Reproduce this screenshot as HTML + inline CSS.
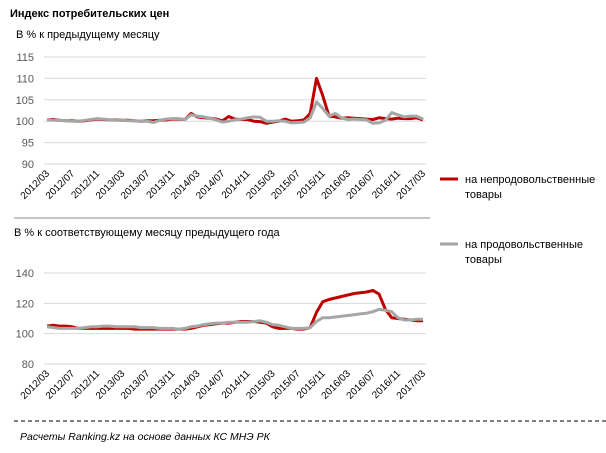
<!DOCTYPE html>
<html><head><meta charset="utf-8"><style>
body{margin:0;background:#fff;}
svg text{font-family:"Liberation Sans",sans-serif;}
</style></head><body>
<svg id="c" width="606" height="448" xmlns="http://www.w3.org/2000/svg">
<text x="10" y="17" font-size="11" font-weight="bold" fill="#000">Индекс потребительских цен</text>
<text x="16" y="38" font-size="11" fill="#000">В % к предыдущему месяцу</text>
<text x="14" y="236" font-size="11" fill="#000">В % к соответствующему месяцу предыдущего года</text>
<line x1="14" y1="218" x2="430" y2="218" stroke="#888" stroke-width="1"/>
<line x1="14" y1="421" x2="606" y2="421" stroke="#000" stroke-width="1" stroke-dasharray="4,3"/>
<text x="20" y="440" font-size="10.5" font-style="italic" fill="#000">Расчеты Ranking.kz на основе данных  КС МНЭ РК</text>
<g>
<line x1="440" y1="179" x2="458" y2="179" stroke="#c00000" stroke-width="3"/>
<text x="465" y="183" font-size="11" fill="#000">на непродовольственные</text>
<text x="465" y="198" font-size="11" fill="#000">товары</text>
</g>
<g>
<line x1="440" y1="244" x2="458" y2="244" stroke="#a6a6a6" stroke-width="3"/>
<text x="465" y="248" font-size="11" fill="#000">на продовольственные</text>
<text x="465" y="263" font-size="11" fill="#000">товары</text>
</g>
<g id="top"></g><g id="bot"></g>
</svg>
<script>
const monthlyNonFood=[100.3,100.4,100.2,100.1,100.1,100.0,100.1,100.3,100.5,100.4,
100.3,100.3,100.2,100.2,100.1,100.0,100.1,100.1,100.2,100.3,100.5,100.5,
100.4,101.8,101.0,100.8,100.7,100.5,100.1,101.1,100.5,100.4,100.4,100.0,
99.9,99.5,99.8,100.0,100.5,100.0,100.1,100.3,101.8,110.0,106.0,101.2,
101.0,100.7,100.8,100.7,100.6,100.5,100.4,100.8,100.6,100.5,100.7,100.6,
100.6,100.8,100.3];
const monthlyFood=[100.3,100.2,100.2,100.1,100.0,100.0,100.2,100.4,100.6,100.5,
100.3,100.2,100.2,100.1,100.1,100.0,100.0,99.7,100.2,100.5,100.6,100.6,
100.4,101.5,101.2,101.0,100.7,100.3,99.8,100.0,100.3,100.5,100.8,101.0,
100.9,100.0,100.0,100.1,100.0,99.6,99.7,99.8,100.8,104.5,103.0,101.2,
101.8,100.8,100.4,100.5,100.4,100.3,99.5,99.6,100.2,102.0,101.5,101.0,
101.2,101.2,100.5];
const annualNonFood=[105,105.5,105,105,104.5,103.5,103.5,103.5,103.5,103.5,
103.5,103.5,103.5,103.5,103,103,103,103,103,103,103,103,
103,103.5,104.5,105.5,106,106.5,107,107,107.5,108,108,108,
107.5,107,104.5,103.5,103.5,103.5,103,103,104,114,121,122.5,
123.5,124.5,125.5,126.5,127,127.5,128.5,126,116,110.5,110,109.5,
109,108.5,108.5];
const annualFood=[104.5,104,103.5,103.5,103.5,103.5,104,104.5,104.5,105,
105,104.5,104.5,104.5,104.5,104,104,104,103.5,103.5,103.5,103,
103.5,104.5,105,106,106.5,107,107,107.5,107.5,107.5,107.5,108,
108.5,107.5,106,105.5,104.5,103.5,103.5,103.5,104,108,110.5,110.5,
111,111.5,112,112.5,113,113.5,114.5,116,115.5,114.5,110.5,109,
109,109.5,109.5];
const xLabels=["2012/03","2012/07","2012/11","2013/03","2013/07","2013/11","2014/03","2014/07","2014/11","2015/03","2015/07","2015/11","2016/03","2016/07","2016/11","2017/03"];
const topTicks=[90,95,100,105,110,115];
const botTicks=[80,100,120,140];
const NS="http://www.w3.org/2000/svg";
const x0=47,x1=423,n=monthlyNonFood.length;
function xs(i){return x0+(x1-x0)*i/(n-1);}
function mk(tag,attrs,parent){const e=document.createElementNS(NS,tag);for(const k in attrs)e.setAttribute(k,attrs[k]);parent.appendChild(e);return e;}
function chart(g,ticks,yTop,yBot,series,labelY,prefix){
  const lo=ticks[0],hi=ticks[ticks.length-1];
  const ys=v=>yBot-(v-lo)/(hi-lo)*(yBot-yTop);
  ticks.forEach(t=>{
    const l=mk('line',{x1:44,x2:426,y1:ys(t),y2:ys(t),stroke:'#d9d9d9','stroke-width':1},g);
    
    
    const tx=mk('text',{x:34,y:ys(t)+4,'font-size':11,fill:'#595959','text-anchor':'end'},g);
    tx.textContent=t;
    
    
  });
  xLabels.forEach((lab,k)=>{
    const x=xs(k*4);
    const tx=mk('text',{x:x+3,y:labelY,'font-size':10,fill:'#000','text-anchor':'end',transform:'rotate(-45 '+(x+3)+' '+labelY+')'},g);
    tx.textContent=lab;
    
    
  });
  series.forEach(s=>{
    const p=mk('polyline',{points:s.d.map((v,i)=>xs(i).toFixed(1)+','+ys(v).toFixed(1)).join(' '),fill:'none',stroke:s.c,'stroke-width':3,'stroke-linejoin':'round'},g);
    
    
  });
}
chart(document.getElementById('top'),topTicks,57,164,[{d:monthlyNonFood,c:'#c00000',name:'nonfood'},{d:monthlyFood,c:'#a6a6a6',name:'food'}],174,'top');
chart(document.getElementById('bot'),botTicks,273,364,[{d:annualNonFood,c:'#c00000',name:'nonfood'},{d:annualFood,c:'#a6a6a6',name:'food'}],374,'bottom');
</script>
</body></html>
